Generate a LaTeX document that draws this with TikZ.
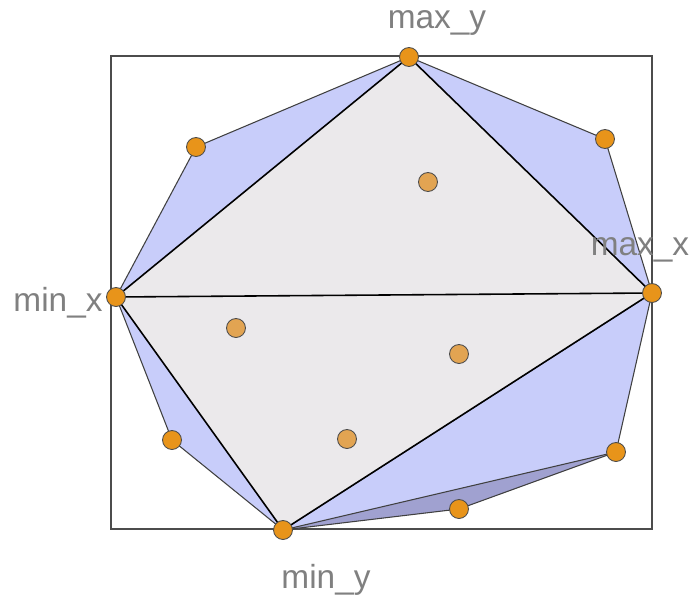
\documentclass[tikz,border=0pt]{standalone}
\usepackage{fontspec}
\setmainfont{Liberation Sans}
\definecolor{hullblue}{RGB}{200,205,250}
\definecolor{darkblue}{RGB}{160,161,208}
\definecolor{quadgray}{RGB}{235,233,235}
\definecolor{ptorange}{RGB}{232,148,26}
\definecolor{inorange}{RGB}{226,164,82}
\definecolor{lblgray}{RGB}{128,128,128}
\tikzset{
  pt/.style={circle,draw=black!70,fill=ptorange,inner sep=0pt,minimum size=0.38cm,line width=0.5bp},
  inpt/.style={pt,fill=inorange},
  lbl/.style={text=lblgray,font=\fontsize{19}{22}\selectfont,inner sep=0pt},
  hulledge/.style={draw=black!75,line width=0.6bp},
  quadedge/.style={draw=black,line width=0.9bp}
}
\begin{document}
\begin{tikzpicture}[x=0.02cm,y=-0.02cm]%
\useasboundingbox (0,0) rectangle (691,599);
% points
\coordinate (maxy) at (409,57);
\coordinate (pa) at (196,147);
\coordinate (pb) at (605,139);
\coordinate (minx) at (116,297);
\coordinate (maxx) at (652,293);
\coordinate (pc) at (172,440);
\coordinate (pd) at (616,452);
\coordinate (pe) at (459,509);
\coordinate (miny) at (283,530);
% bounding box
\draw[black!70,line width=0.7bp] (111,56) rectangle (652,529);
% hull
\fill[hullblue] (maxy) -- (pb) -- (maxx) -- (pd) -- (pe) -- (miny) -- (pc) -- (minx) -- (pa) -- cycle;
\fill[darkblue] (pd) -- (pe) -- (miny) -- cycle;
\draw[hulledge] (maxy) -- (pb) -- (maxx) -- (pd) -- (pe) -- (miny) -- (pc) -- (minx) -- (pa) -- cycle;
\draw[hulledge] (pd) -- (miny);
\draw[hulledge] (maxx) -- (miny);
% quadrilateral
\filldraw[quadedge,fill=quadgray] (maxy) -- (maxx) -- (miny) -- (minx) -- cycle;
\draw[quadedge] (minx) -- (maxx);
% point markers
\foreach \p in {maxy,pa,pb,minx,maxx,pc,pd,pe,miny}
  \node[pt] at (\p) {};
\node[inpt] (qa) at (428,182) {};
\node[inpt] (qb) at (236,328) {};
\node[inpt] (qc) at (459,354) {};
\node[inpt] (qd) at (347,439) {};
% labels
\node[lbl] (lmaxy) at (437,23) {max\_y};
\node[lbl] (lminx) at (58,303) {min\_x};
\node[lbl] (lmaxx) at (640,250) {max\_x};
\node[lbl] (lminy) at (326,580) {min\_y};
\end{tikzpicture}
\end{document}
